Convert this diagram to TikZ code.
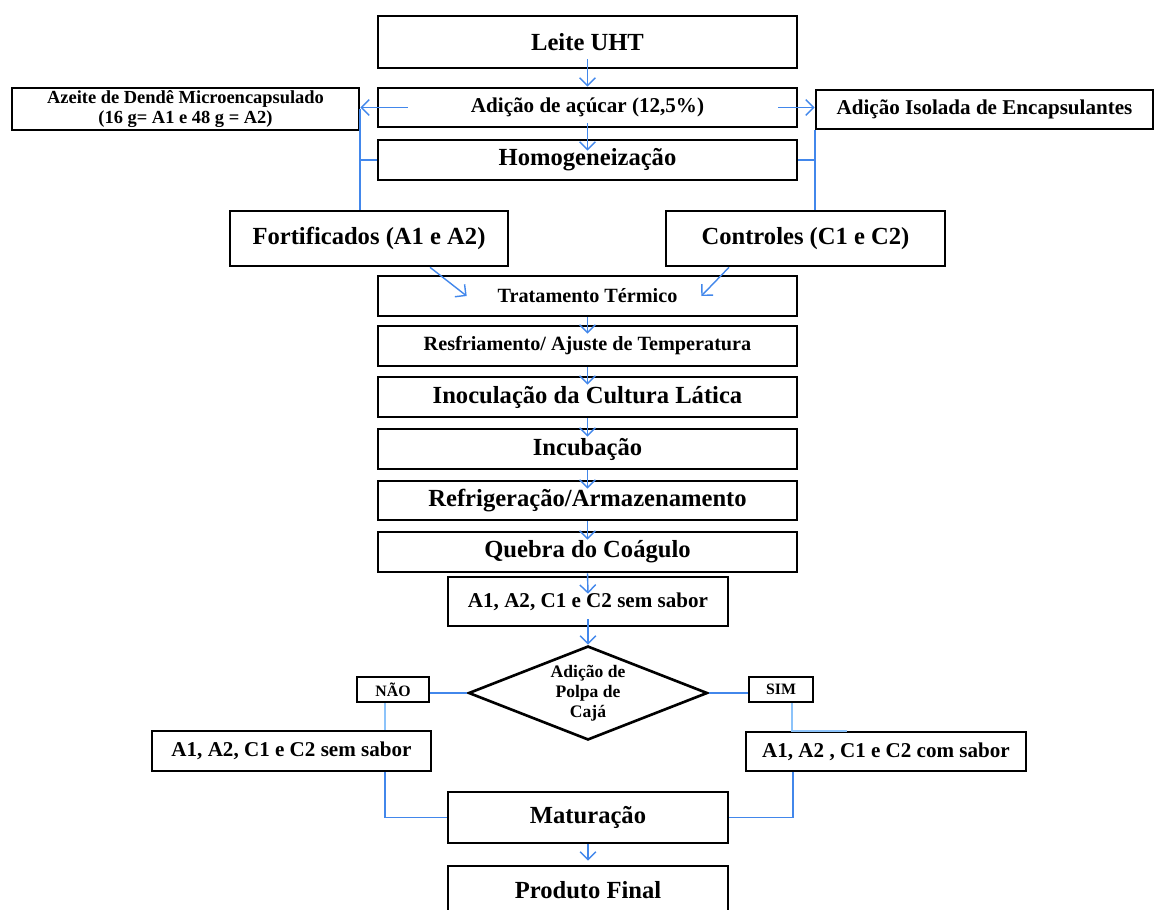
\documentclass[tikz,border=0pt]{standalone}
\usepackage{fontspec}
\setmainfont{Liberation Serif}
\usetikzlibrary{arrows.meta,shapes.geometric}
\definecolor{seta}{RGB}{66,135,235}
\definecolor{setaclara}{RGB}{140,195,250}

\begin{document}
\begin{tikzpicture}[x=0.02cm,y=-0.02cm,
    etapa/.style={draw, line width=1.5pt, inner sep=0pt, align=center,
        minimum width=8.38cm, font=\bfseries\fontsize{14}{16}\selectfont},
    etapamenor/.style={etapa, font=\bfseries\fontsize{12}{14}\selectfont},
    rotulo/.style={draw, line width=1.5pt, inner sep=0pt, minimum height=0.5cm,
        font=\bfseries\fontsize{9}{10}\selectfont},
    flow/.style={draw=seta, line width=0.8pt, -{Straight Barb[length=4.5pt,width=9pt]}},
    link/.style={draw=seta, line width=0.9pt},
    linkclaro/.style={draw=setaclara, line width=1pt}]

    \useasboundingbox (0,0) rectangle (1155,909);
    \clip (0,0) rectangle (1155,909);

    % coluna central
    \node[etapa, minimum height=1.04cm] (leite) at (587.5,42) {Leite UHT};
    \node[etapamenor, minimum height=0.78cm] (acucar) at (587.5,107.5) {Adição de açúcar (12,5\%)};
    \node[etapa, minimum height=0.8cm] (homog) at (587.5,160) {Homogeneização};

    % ramos laterais
    \node[etapa, minimum width=6.94cm, minimum height=0.84cm,
        font=\bfseries\fontsize{10.5}{11}\selectfont] (azeite) at (185.5,109)
        {Azeite de Dendê Microencapsulado\\(16 g= A1 e 48 g = A2)};
    \node[etapamenor, minimum width=6.74cm, minimum height=0.78cm] (isolada) at (984.5,109.5)
        {Adição Isolada de Encapsulantes};
    \node[etapa, minimum width=5.56cm, minimum height=1.1cm] (fort) at (369,238.5) {Fortificados (A1 e A2)};
    \node[etapa, minimum width=5.58cm, minimum height=1.1cm] (contr) at (805.5,238.5) {Controles (C1 e C2)};

    % processo
    \node[etapa, minimum height=0.8cm, font=\bfseries\fontsize{11.5}{13}\selectfont] (trat) at (587.5,296) {Tratamento Térmico};
    \node[etapa, minimum height=0.8cm, font=\bfseries\fontsize{11.5}{13}\selectfont] (resf) at (587.5,346) {Resfriamento/ Ajuste de Temperatura};
    \node[etapa, minimum height=0.8cm] (inoc) at (587.5,397) {Inoculação da Cultura Lática};
    \node[etapa, minimum height=0.8cm] (incub) at (587.5,449) {Incubação};
    \node[etapa, minimum height=0.78cm] (refrig) at (587.5,500.5) {Refrigeração/Armazenamento};
    \node[etapa, minimum height=0.8cm] (quebra) at (587.5,552) {Quebra do Coágulo};
    \node[etapamenor, minimum width=5.6cm, minimum height=0.98cm] (semsabor) at (588,601.5) {A1, A2, C1 e C2 sem sabor};

    % decisao
    \node[draw, shape=diamond, line width=1.5pt, inner sep=0pt,
        minimum width=4.78cm, minimum height=1.88cm] (decisao) at (588,693) {};
    \node[align=center, font=\bfseries\fontsize{10}{11.3}\selectfont] (polpa) at (decisao.center)
        {Adição de\\Polpa de\\Cajá};
    \node[rotulo, minimum width=1.44cm] (nao) at (393,689.5) {NÃO};
    \node[rotulo, minimum width=1.28cm] (sim) at (781,689.5) {SIM};
    \node[etapamenor, minimum width=5.58cm, minimum height=0.8cm] (semsaborL) at (291.5,751) {A1, A2, C1 e C2 sem sabor};
    \node[etapamenor, minimum width=5.6cm, minimum height=0.78cm] (comsabor) at (886,751.5) {A1, A2 , C1 e C2 com sabor};
    \node[etapa, minimum width=5.6cm, minimum height=1.02cm] (matur) at (588,817.5) {Maturação};
    \node[etapa, minimum width=5.6cm, minimum height=0.96cm] (produto) at (588,890) {Produto Final};

    % setas
    \draw[flow] ([yshift=0.2cm]leite.south) -- (acucar.north);
    \draw[flow] ([yshift=0.1cm]acucar.south) -- ([yshift=-0.24cm]homog.north);
    \draw[flow] ([xshift=0.62cm]acucar.west) -- (acucar.west -| azeite.east);
    \draw[flow] ([xshift=-0.4cm]acucar.east) -- (acucar.east -| isolada.west);
    \draw[link] (azeite.east) -- (azeite.east |- fort.north);
    \draw[link] (homog.west) -- (homog.west -| azeite.east);
    \draw[link] (isolada.south west) -- (isolada.south west |- contr.north);
    \draw[link] (homog.east) -- (homog.east -| isolada.west);
    \draw[flow] ([xshift=1.22cm]fort.south) -- ([xshift=1.8cm]trat.west);
    \draw[flow] ([xshift=-1.53cm]contr.south) -- ([xshift=-1.94cm]trat.east);
    \foreach \de/\para/\desl in {trat/resf/0.18, resf/inoc/0.18, inoc/incub/0.18,
        incub/refrig/0.18, refrig/quebra/0.18, quebra/semsabor/0.36}
        \draw[flow] (\de.south) -- ([yshift=-\desl cm]\para.north);
    \draw[flow] ([yshift=0.16cm]semsabor.south) -- (decisao.north);
    \draw[link] (decisao.west) -- (decisao.west -| nao.east);
    \draw[link] (decisao.east) -- (decisao.east -| sim.west);
    \draw[linkclaro] ([xshift=-0.16cm]nao.south) -- ([xshift=-0.16cm]nao.south |- semsaborL.north);
    \draw[link] ([xshift=-0.16cm]nao.south |- semsaborL.south) |- (matur.west);
    \draw[linkclaro] ([xshift=0.22cm]sim.south) |- ([xshift=-0.78cm]comsabor.north);
    \draw[link] ([xshift=-1.86cm]comsabor.south) |- (matur.east);
    \draw[flow] (matur.south) -- ([yshift=0.08cm]produto.north);

\end{tikzpicture}
\end{document}
